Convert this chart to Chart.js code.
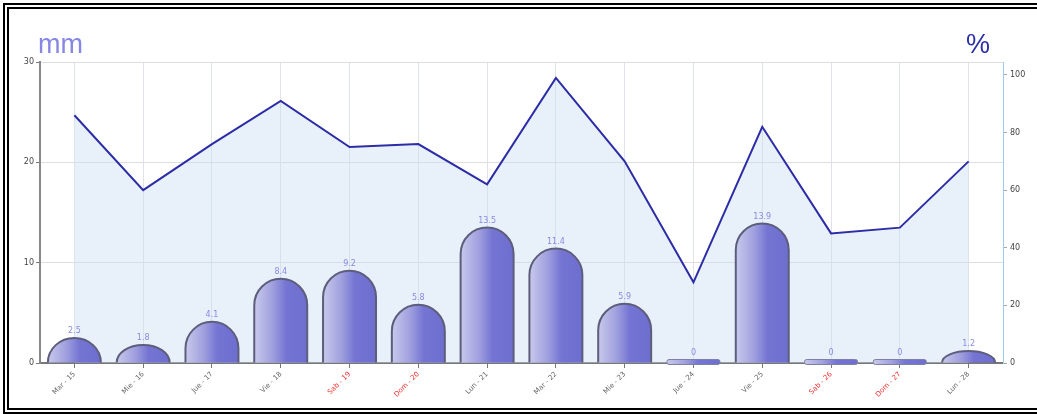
<!DOCTYPE html>
<html>
<head>
<meta charset="utf-8">
<script src="https://cdn.jsdelivr.net/npm/chart.js@4"></script>
<style>
  html, body { margin: 0; padding: 0; background: #fff; overflow: hidden; }
  #wrap { position: relative; width: 1037px; height: 414px; }
  #chart { position: absolute; left: 0; top: 0; }
  #frame { position: absolute; left: 3px; top: 3px; width: 1040px; height: 399px;
           border: 6px double #000; pointer-events: none; }
</style>
</head>
<body>
<div id="wrap">
  <canvas id="chart" width="1037" height="414"></canvas>
  <div id="frame"></div>
</div>
<script>
// datos
var categories = ['Mar - 15', 'Mie - 16', 'Jue - 17', 'Vie - 18', 'Sab - 19', 'Dom - 20', 'Lun - 21',
                  'Mar - 22', 'Mie - 23', 'Jue - 24', 'Vie - 25', 'Sab - 26', 'Dom - 27', 'Lun - 28'];
var lluvia = [2.5, 1.8, 4.1, 8.4, 9.2, 5.8, 13.5, 11.4, 5.9, 0, 13.9, 0, 0, 1.2];
var humedad = [86, 60, 76, 91, 75, 76, 62, 99, 70, 28, 82, 45, 47, 70];
var mmTicks = [0, 10, 20, 30];
var pctTicks = [0, 20, 40, 60, 80, 100];

var barPct = 0.77;

function barFill(c) {
    var chart = c.chart;
    var area = chart.chartArea;
    if (!area || c.dataIndex === undefined || !chart.scales.x) return '#7474d2';
    var cx = chart.scales.x.getPixelForValue(c.dataIndex);
    var half = (area.right - area.left) / categories.length * barPct / 2;
    var g = chart.ctx.createLinearGradient(cx - half, 0, cx + half, 0);
    g.addColorStop(0, '#c9c9ec');
    g.addColorStop(0.35, '#9f9fde');
    g.addColorStop(0.6, '#7474d3');
    g.addColorStop(1, '#6e6ecf');
    return g;
}

function esFinde(label) {
    return label.indexOf('Sab') === 0 || label.indexOf('Dom') === 0;
}

// barras con tapa redondeada (cupula) usando la geometria de cada elemento
var cupulas = {
    id: 'cupulas',
    beforeDatasetDraw: function (chart, args) {
        if (args.index !== 1) return;
        var ctx = chart.ctx;
        args.meta.data.forEach(function (el, i) {
            var p = el.getProps(['x', 'y', 'base', 'width'], true);
            var half = p.width / 2;
            ctx.save();
            ctx.beginPath();
            if (lluvia[i] === 0) {
                // barra vacia: tira fina sobre el eje
                ctx.roundRect(p.x - half, p.base - 3, p.width, 5, 2);
                ctx.fillStyle = el.options.backgroundColor;
                ctx.fill();
                ctx.lineWidth = 1;
                ctx.strokeStyle = '#8080a0';
                ctx.stroke();
                ctx.restore();
                return;
            }
            var h = p.base - p.y;
            var ry = Math.min(half, h);
            ctx.moveTo(p.x - half, p.base);
            ctx.lineTo(p.x - half, p.y + ry);
            ctx.ellipse(p.x, p.y + ry, half, ry, 0, Math.PI, 2 * Math.PI);
            ctx.lineTo(p.x + half, p.base);
            ctx.fillStyle = el.options.backgroundColor;
            ctx.fill();
            ctx.lineWidth = el.options.borderWidth;
            ctx.strokeStyle = el.options.borderColor;
            ctx.stroke();
            ctx.restore();
        });
        return false;
    },
    afterDatasetsDraw: function (chart) {
        var ctx = chart.ctx;
        var meta = chart.getDatasetMeta(1);
        ctx.save();
        ctx.font = '8px "DejaVu Sans"';
        ctx.fillStyle = '#8a8ae2';
        ctx.textAlign = 'center';
        ctx.textBaseline = 'alphabetic';
        meta.data.forEach(function (el, i) {
            var top = lluvia[i] === 0 ? el.base - 3 : el.y;
            ctx.fillText(String(lluvia[i]), el.x, top - 5);
        });
        ctx.font = '27px "Liberation Sans"';
        ctx.textAlign = 'left';
        ctx.fillStyle = '#8686e6';
        ctx.fillText('mm', 38, 53);
        ctx.fillStyle = '#2b30a8';
        ctx.fillText('%', 966, 53);
        ctx.restore();
    }
};

var ctx = document.getElementById('chart').getContext('2d');
var chart = new Chart(ctx, {
    data: {
        labels: categories,
        datasets: [{
            type: 'line',
            label: '%',
            data: humedad,
            yAxisID: 'y1',
            borderColor: '#2c2ca6',
            borderWidth: 2,
            pointRadius: 0,
            tension: 0,
            fill: 'origin',
            backgroundColor: 'rgba(200, 222, 243, 0.42)',
            order: 2
        }, {
            type: 'bar',
            label: 'mm',
            data: lluvia,
            yAxisID: 'y',
            backgroundColor: barFill,
            borderColor: '#5d5d7c',
            borderWidth: 2,
            minBarLength: 4,
            categoryPercentage: 1,
            barPercentage: barPct,
            order: 1
        }]
    },
    options: {
        responsive: false,
        animation: false,
        layout: { padding: { top: 62, left: 0, right: 0, bottom: 0 } },
        plugins: { legend: { display: false }, tooltip: { enabled: false } },
        scales: {
            x: {
                offset: true,
                grid: { offset: false, color: '#e0e4ea', tickLength: 5, tickColor: '#777' },
                border: { color: '#777', width: 2 },
                ticks: {
                    minRotation: 45, maxRotation: 45, padding: 2,
                    font: { family: 'DejaVu Sans', size: 7 },
                    color: function (c) { return esFinde(categories[c.index]) ? '#ee3030' : '#666'; }
                },
                afterFit: function (s) { s.height = 51; }
            },
            y: {
                position: 'left',
                min: 0, max: 30,
                grid: { color: '#dedede', tickLength: 4, tickColor: '#777' },
                border: { color: '#888', width: 2 },
                ticks: { font: { family: 'DejaVu Sans', size: 8 }, color: '#444', padding: 2 },
                afterBuildTicks: function (s) { s.ticks = mmTicks.map(function (v) { return { value: v }; }); },
                afterFit: function (s) { s.width = 40; }
            },
            y1: {
                position: 'right',
                min: 0, max: 104.5,
                grid: { drawOnChartArea: false, tickLength: 4, tickColor: '#9ab' },
                border: { color: '#a9c8e6', width: 1 },
                ticks: { font: { family: 'DejaVu Sans', size: 8 }, color: '#444', padding: 3 },
                afterBuildTicks: function (s) { s.ticks = pctTicks.map(function (v) { return { value: v }; }); },
                afterFit: function (s) { s.width = 34; }
            }
        }
    },
    plugins: [cupulas]
});
</script>
</body>
</html>
